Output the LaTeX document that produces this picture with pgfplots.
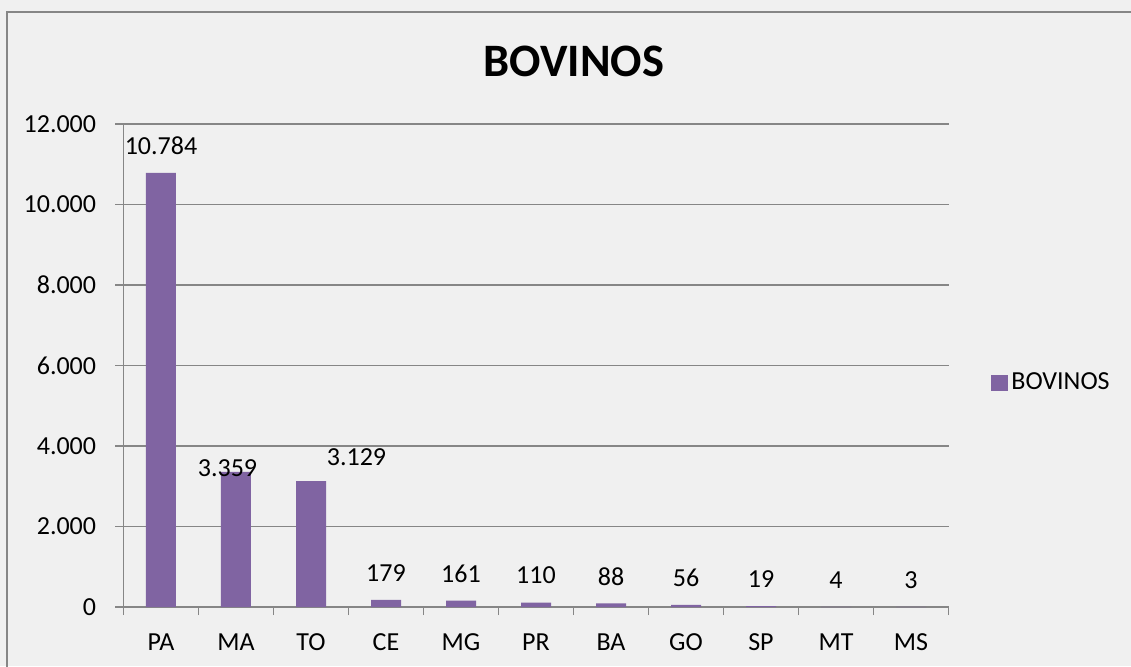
\documentclass[border=0pt]{standalone}
\usepackage{pgfplots}
\usepackage{pgfplotstable}
\pgfplotsset{compat=1.18}
\usepackage{fontspec}
\setmainfont{Carlito}
\definecolor{barcol}{HTML}{8064A2}
\definecolor{bgcol}{HTML}{F0F0F0}
\definecolor{gridcol}{HTML}{868686}
\pgfplotstableread{
x y dx dy
0 10784 0 13.5
1 3359 -4.25 1.9
2 3129 22.75 12.15
3 179 0 13.5
4 161 0 13.5
5 110 0 13.5
6 88 0 13.5
7 56 0 13.5
8 19 0 13.5
9 4 0 13.5
10 3 0 13.5
}\bovinos
\begin{document}
\begin{tikzpicture}
\useasboundingbox (-61.75pt,-29.5pt) rectangle (503.75pt,303.5pt);
\fill[bgcol] (-61.75pt,-29.5pt) rectangle (503.75pt,303.5pt);
\draw[gridcol, line width=1pt] (-58.25pt,-40pt) -- (-58.25pt,297.5pt) -- (520pt,297.5pt);
\begin{axis}[
  at={(0pt,0pt)}, anchor=south west,
  scale only axis, width=412.5pt, height=241.5pt,
  xmin=-0.5, xmax=10.5, ymin=0, ymax=12000,
  axis lines=left, axis line style={gridcol, line width=0.6pt, -},
  ytick={0,2000,...,12000},
  ymajorgrids, grid style={gridcol, line width=0.6pt},
  xtick=data, xticklabels={PA,MA,TO,CE,MG,PR,BA,GO,SP,MT,MS},
  major x tick style={draw=none},
  minor xtick={-0.5,0.5,...,10.5},
  minor x tick style={gridcol, line width=0.6pt},
  major y tick style={gridcol, line width=0.6pt},
  tick align=outside, major tick length=4pt, minor tick length=4pt,
  scaled y ticks=false,
  /pgf/number format/.cd, fixed, 1000 sep={.}, assume math mode=true,
  /pgfplots/.cd,
  tick label style={font=\fontsize{13}{15.6}\selectfont, text=black},
  yticklabel style={anchor=east, inner sep=0pt, xshift=-9.5pt},
  xticklabel style={anchor=base, inner sep=0pt, yshift=-17.5pt},
  legend style={at={(1.0515,0.4638)}, anchor=west, draw=none, fill=none,
    font=\fontsize{13}{15.6}\selectfont, inner sep=0pt,
    nodes={inner sep=1.5pt}},
  legend image code/.code={\fill[barcol] (0pt,-4pt) rectangle (8.5pt,4pt);},
  clip=false,
]
\addplot[ybar, bar width=15pt, fill=barcol, draw=none,
  nodes near coords={\pgfmathprintnumber[fixed,precision=0,1000 sep={.},assume math mode=true]{\pgfplotspointmeta}},
  visualization depends on={\thisrow{dx} \as \dx},
  visualization depends on={\thisrow{dy} \as \dy},
  every node near coord/.append style={anchor=center, inner sep=0pt, xshift=\dx pt, yshift=\dy pt, font=\fontsize{13}{15.6}\selectfont, text=black},
] table[x=x, y=y] {\bovinos};
\addlegendentry{BOVINOS}
\end{axis}
\node[font=\fontsize{23.25}{28}\selectfont\bfseries] at (225.25pt,272.65pt) {BOVINOS};
\end{tikzpicture}
\end{document}
